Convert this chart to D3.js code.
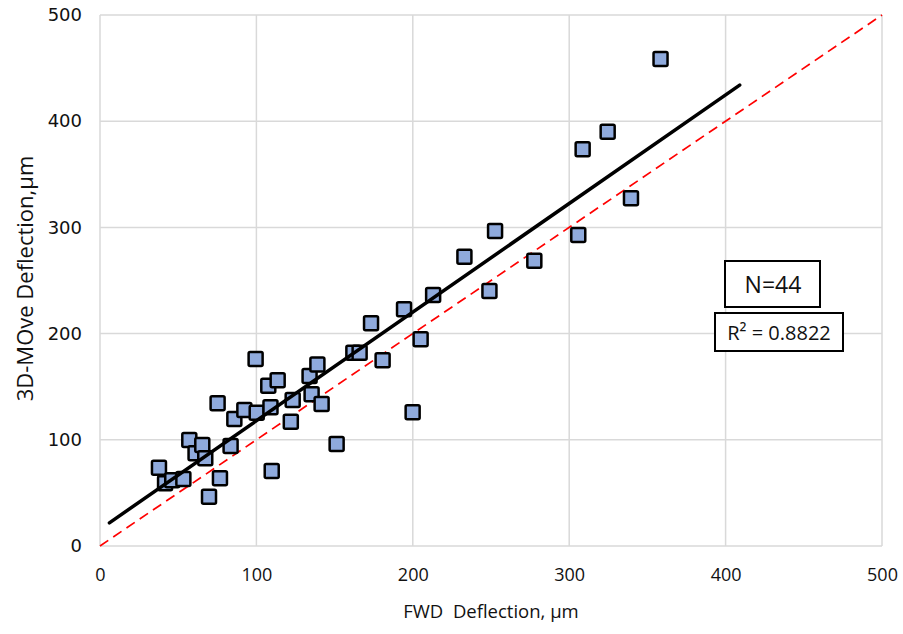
<!DOCTYPE html>
<html>
<head>
<meta charset="utf-8">
<script src="https://cdn.jsdelivr.net/npm/d3@7"></script>
<style>
  body { margin: 0; background: #fff; }
  text { font-family: "Open Sans", "Noto Sans", sans-serif; fill: #111; white-space: pre; }
</style>
</head>
<body>
<div id="chart-container"></div>
<script>
// FWD vs 3D-Move deflections (µm)
const fwd = [37.7, 41.6, 46.2, 53.3, 57.1, 61.1, 65.4, 67.3, 69.7, 75.2, 76.7, 83.5, 85.9, 92.3, 100.2,
    99.5, 107.6, 109, 109.8, 113.6, 122, 123.2, 135.3, 134, 139, 141.7, 151.3, 162, 166, 173.3,
    180.7, 194.4, 199.9, 205, 213, 233, 249, 252.6, 277.7, 305.8, 308.6, 324.6, 339.5, 358.4];
const move3d = [73.7, 59, 62, 63, 99.8, 87.3, 95, 82.6, 46.4, 134.4, 63.7, 94.2, 119.6, 128, 125.5,
    176, 151, 130.6, 70.6, 156, 117, 137.5, 142.8, 160, 171, 133.7, 96, 182, 182, 209.7,
    175, 222.9, 125.9, 194.6, 236.3, 272.4, 240, 296.6, 268.6, 292.8, 373.5, 390, 327.4, 458.6];

const trendX = [6, 409];
const trendY = [21.8, 434];
const equalityLine = [0, 500];

const xTicks = [0, 100, 200, 300, 400, 500];
const yTicks = [0, 100, 200, 300, 400, 500];

const nLabel = "N=44";
const r2Label = "R² = 0.8822";

const width = 903, height = 634;
const margin = {top: 15, right: 21, bottom: 88, left: 100};
const innerW = width - margin.left - margin.right;
const innerH = height - margin.top - margin.bottom;

const svg = d3.select("#chart-container").append("svg")
    .attr("width", width)
    .attr("height", height);

const g = svg.append("g")
    .attr("transform", `translate(${margin.left}, ${margin.top})`);

const x = d3.scaleLinear().domain([0, 500]).range([0, innerW]);
const y = d3.scaleLinear().domain([0, 500]).range([innerH, 0]);

// gridlines
g.append("g").selectAll("line")
    .data(xTicks)
    .join("line")
    .attr("x1", d => x(d)).attr("x2", d => x(d))
    .attr("y1", 0).attr("y2", innerH)
    .attr("stroke", "#d9d9d9").attr("stroke-width", 1.5);

g.append("g").selectAll("line")
    .data(yTicks)
    .join("line")
    .attr("x1", 0).attr("x2", innerW)
    .attr("y1", d => y(d)).attr("y2", d => y(d))
    .attr("stroke", "#d9d9d9").attr("stroke-width", 1.5);

// axes, only labels
const xAxis = g.append("g")
    .attr("transform", `translate(0, ${innerH})`)
    .call(d3.axisBottom(x).tickValues(xTicks).tickSize(0).tickPadding(22));
const yAxis = g.append("g")
    .call(d3.axisLeft(y).tickValues(yTicks).tickSize(0).tickPadding(18));
xAxis.select(".domain").remove();
yAxis.select(".domain").remove();
xAxis.selectAll("text")
    .style("font-family", "'Open Sans', sans-serif")
    .style("font-size", "18px")
    .attr("fill", "#111");
yAxis.selectAll("text")
    .style("font-family", "'DejaVu Sans', sans-serif")
    .style("font-size", "18px")
    .attr("fill", "#111");

// 1:1 line
g.append("line")
    .attr("x1", x(equalityLine[0])).attr("y1", y(equalityLine[0]))
    .attr("x2", x(equalityLine[1])).attr("y2", y(equalityLine[1]))
    .attr("stroke", "#ff0000")
    .attr("stroke-width", 1.7)
    .attr("stroke-dasharray", "10,6");

// points
const pts = fwd.map((v, i) => ({fwd: v, move: move3d[i]}));
const sz = 14;
g.append("g").selectAll("rect")
    .data(pts)
    .join("rect")
    .attr("x", d => x(d.fwd) - sz / 2)
    .attr("y", d => y(d.move) - sz / 2)
    .attr("width", sz).attr("height", sz)
    .attr("rx", 1.5)
    .attr("fill", "#8faadc")
    .attr("stroke", "#000")
    .attr("stroke-width", 2.5);

// trend line
g.append("line")
    .attr("x1", x(trendX[0])).attr("y1", y(trendY[0]))
    .attr("x2", x(trendX[1])).attr("y2", y(trendY[1]))
    .attr("stroke", "#000")
    .attr("stroke-width", 3.5)
    .attr("stroke-linecap", "round");

// N box
svg.append("rect")
    .attr("x", 725).attr("y", 261).attr("width", 95).attr("height", 46)
    .attr("fill", "#fff").attr("stroke", "#000").attr("stroke-width", 2);
svg.append("text")
    .attr("x", 773).attr("y", 293)
    .attr("text-anchor", "middle")
    .style("font-size", "23px")
    .text(nLabel);

// R² box
svg.append("rect")
    .attr("x", 715).attr("y", 313).attr("width", 128).attr("height", 38)
    .attr("fill", "#fff").attr("stroke", "#000").attr("stroke-width", 2);
svg.append("text")
    .attr("x", 779).attr("y", 340)
    .attr("text-anchor", "middle")
    .style("font-size", "20px")
    .text(r2Label);

// axis titles
svg.append("text")
    .attr("x", margin.left + innerW / 2).attr("y", 618)
    .attr("text-anchor", "middle")
    .style("font-size", "18.5px")
    .text("FWD  Deflection, µm");

svg.append("text")
    .attr("transform", `translate(33, ${margin.top + innerH / 2 - 2}) rotate(-90)`)
    .attr("text-anchor", "middle")
    .style("font-size", "22px")
    .text("3D-MOve Deflection,µm");
</script>
</body>
</html>
